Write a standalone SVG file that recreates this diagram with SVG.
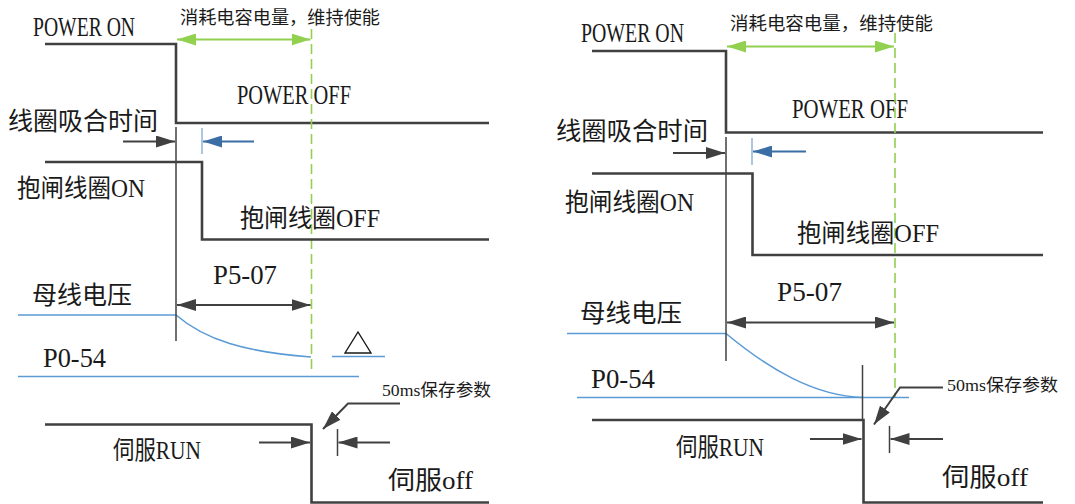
<svg xmlns="http://www.w3.org/2000/svg" width="1075" height="504" viewBox="0 0 1075 504">
<style>
.t{font-family:"Liberation Serif","Noto Sans CJK SC",serif;fill:#1a1a1a;font-size:25px}
.l{font-size:27px}
.s{font-size:17px}
.g{font-size:18px}
.sig{fill:none;stroke:#404040;stroke-width:2.6}
.tick{fill:none;stroke:#404040;stroke-width:1.5}
.bus{fill:none;stroke:#5b9bd5;stroke-width:1.6}
.dash{fill:none;stroke:#92d050;stroke-width:1.6;stroke-dasharray:10 5}
.ga{fill:none;stroke:#92d050;stroke-width:2;marker-start:url(#ag);marker-end:url(#ag)}
.ka{fill:none;stroke:#404040;stroke-width:2;marker-end:url(#ak)}
.kd{fill:none;stroke:#404040;stroke-width:2;marker-start:url(#ak);marker-end:url(#ak)}
.ba{fill:none;stroke:#3a6ea5;stroke-width:2;marker-end:url(#ab)}
.bt{fill:none;stroke:#8fb3d9;stroke-width:1.5}
</style>
<defs>
<marker id="ak" markerUnits="userSpaceOnUse" markerWidth="19" markerHeight="12" refX="19" refY="6" orient="auto-start-reverse"><path d="M0,0 L19,6 L0,12 z" fill="#404040"/></marker>
<marker id="ab" markerUnits="userSpaceOnUse" markerWidth="19" markerHeight="12" refX="19" refY="6" orient="auto-start-reverse"><path d="M0,0 L19,6 L0,12 z" fill="#3a6ea5"/></marker>
<marker id="ag" markerUnits="userSpaceOnUse" markerWidth="19" markerHeight="12" refX="19" refY="6" orient="auto-start-reverse"><path d="M0,0 L19,6 L0,12 z" fill="#92d050"/></marker>
</defs>

<g id="left">
 <g id="L-power">
  <path class="sig" d="M45,44 H176 V123 H489"/>
  <text class="t l" x="33" y="36" textLength="102" lengthAdjust="spacingAndGlyphs">POWER ON</text>
  <text class="t l" x="237" y="104" textLength="114" lengthAdjust="spacingAndGlyphs">POWER OFF</text>
 </g>
 <g id="L-hold">
  <line class="dash" x1="311.5" y1="29" x2="311.5" y2="373"/>
  <text class="t g" x="180" y="24" textLength="200" lengthAdjust="spacingAndGlyphs">消耗电容电量，维持使能</text>
 </g>
 <g id="L-coil-time">
  <text class="t" x="8" y="130" textLength="150" lengthAdjust="spacingAndGlyphs">线圈吸合时间</text>
  <line class="bt" x1="202" y1="128" x2="202" y2="154"/>
 </g>
 <g id="L-brake">
  <path class="sig" d="M45,162 H202 V239.5 H489"/>
  <text class="t" x="17" y="197" textLength="128" lengthAdjust="spacingAndGlyphs">抱闸线圈ON</text>
  <text class="t" x="240" y="227" textLength="140" lengthAdjust="spacingAndGlyphs">抱闸线圈OFF</text>
 </g>
 <g id="L-bus">
  <path class="bus" d="M18,315 H176 C205,340 245,352 311,357"/>
  <text class="t" x="32" y="304" textLength="100" lengthAdjust="spacingAndGlyphs">母线电压</text>
  <text class="t l" x="213" y="284" textLength="64" lengthAdjust="spacingAndGlyphs">P5-07</text>
  <polygon points="345,353 371,353 358,332" fill="none" stroke="#1a1a1a" stroke-width="1.4"/>
  <line class="bus" x1="332" y1="356.5" x2="385" y2="356.5"/>
 </g>
 <g id="L-p054">
  <line class="bus" x1="18" y1="376.5" x2="359" y2="376.5"/>
  <text class="t l" x="43" y="367" textLength="63" lengthAdjust="spacingAndGlyphs">P0-54</text>
 </g>
 <g id="L-servo">
  <path class="sig" d="M45,424.5 H311.5 V502.5 H489"/>
  <text class="t" x="113" y="459" textLength="88" lengthAdjust="spacingAndGlyphs">伺服RUN</text>
  <text class="t" x="388" y="489" textLength="85" lengthAdjust="spacingAndGlyphs">伺服off</text>
  <text class="t s" x="382" y="396" textLength="109" lengthAdjust="spacingAndGlyphs">50ms保存参数</text>
  <line class="tick" x1="337.5" y1="429" x2="337.5" y2="456"/>
 </g>
</g>

<g id="right">
 <g id="R-power">
  <path class="sig" d="M592,51 H726 V132.5 H1043"/>
  <text class="t l" x="581" y="42" textLength="103" lengthAdjust="spacingAndGlyphs">POWER ON</text>
  <text class="t l" x="792" y="118" textLength="116" lengthAdjust="spacingAndGlyphs">POWER OFF</text>
 </g>
 <g id="R-hold">
  <line class="dash" x1="895" y1="33" x2="895" y2="397"/>
  <text class="t g" x="730" y="30" textLength="203" lengthAdjust="spacingAndGlyphs">消耗电容电量，维持使能</text>
 </g>
 <g id="R-coil-time">
  <text class="t" x="556" y="140" textLength="152" lengthAdjust="spacingAndGlyphs">线圈吸合时间</text>
  <line class="bt" x1="752" y1="138" x2="752" y2="165"/>
 </g>
 <g id="R-brake">
  <path class="sig" d="M592,173.5 H752.5 V255 H1043"/>
  <text class="t" x="565" y="211" textLength="129" lengthAdjust="spacingAndGlyphs">抱闸线圈ON</text>
  <text class="t" x="797" y="242" textLength="142" lengthAdjust="spacingAndGlyphs">抱闸线圈OFF</text>
 </g>
 <g id="R-bus">
  <path class="bus" d="M567,333.5 H726 C770,370 815,396 863,397.5"/>
  <text class="t" x="580" y="322" textLength="102" lengthAdjust="spacingAndGlyphs">母线电压</text>
  <text class="t l" x="777" y="301" textLength="65" lengthAdjust="spacingAndGlyphs">P5-07</text>
 </g>
 <g id="R-p054">
  <line class="bus" x1="577" y1="397.5" x2="909" y2="397.5"/>
  <text class="t l" x="591" y="388" textLength="64" lengthAdjust="spacingAndGlyphs">P0-54</text>
 </g>
 <g id="R-servo">
  <line class="tick" x1="862.5" y1="365" x2="862.5" y2="420"/>
  <path class="sig" d="M592,420 H863.5 V502.5 H1043"/>
  <text class="t" x="676" y="456" textLength="88" lengthAdjust="spacingAndGlyphs">伺服RUN</text>
  <text class="t" x="942" y="486" textLength="86" lengthAdjust="spacingAndGlyphs">伺服off</text>
  <text class="t s" x="947" y="391" textLength="111" lengthAdjust="spacingAndGlyphs">50ms保存参数</text>
  <line class="tick" x1="889.5" y1="426" x2="889.5" y2="453"/>
 </g>
</g>

<g id="connectors">
 <line class="tick" x1="176" y1="127" x2="176" y2="341"/>
 <line class="ga" x1="177" y1="39.5" x2="310.5" y2="39.5"/>
 <line class="ka" x1="123" y1="141.5" x2="175" y2="141.5"/>
 <line class="ba" x1="254" y1="141.5" x2="203" y2="141.5"/>
 <line class="kd" x1="177" y1="305" x2="310.5" y2="305"/>
 <polyline class="ka" points="400,403.5 348,403.5 323,429"/>
 <line class="ka" x1="259" y1="442.5" x2="310" y2="442.5"/>
 <line class="ka" x1="390" y1="442.5" x2="338.5" y2="442.5"/>

 <line class="tick" x1="726" y1="137" x2="726" y2="361"/>
 <line class="ga" x1="727" y1="46.5" x2="894" y2="46.5"/>
 <line class="ka" x1="673" y1="153" x2="725" y2="153"/>
 <line class="ba" x1="806" y1="151.5" x2="753" y2="151.5"/>
 <line class="kd" x1="727" y1="322.5" x2="894" y2="322.5"/>
 <polyline class="ka" points="943,387.5 900,387.5 874,424.5"/>
 <line class="ka" x1="810" y1="439" x2="861.5" y2="439"/>
 <line class="ka" x1="943" y1="439" x2="890.5" y2="439"/>
</g>
</svg>
